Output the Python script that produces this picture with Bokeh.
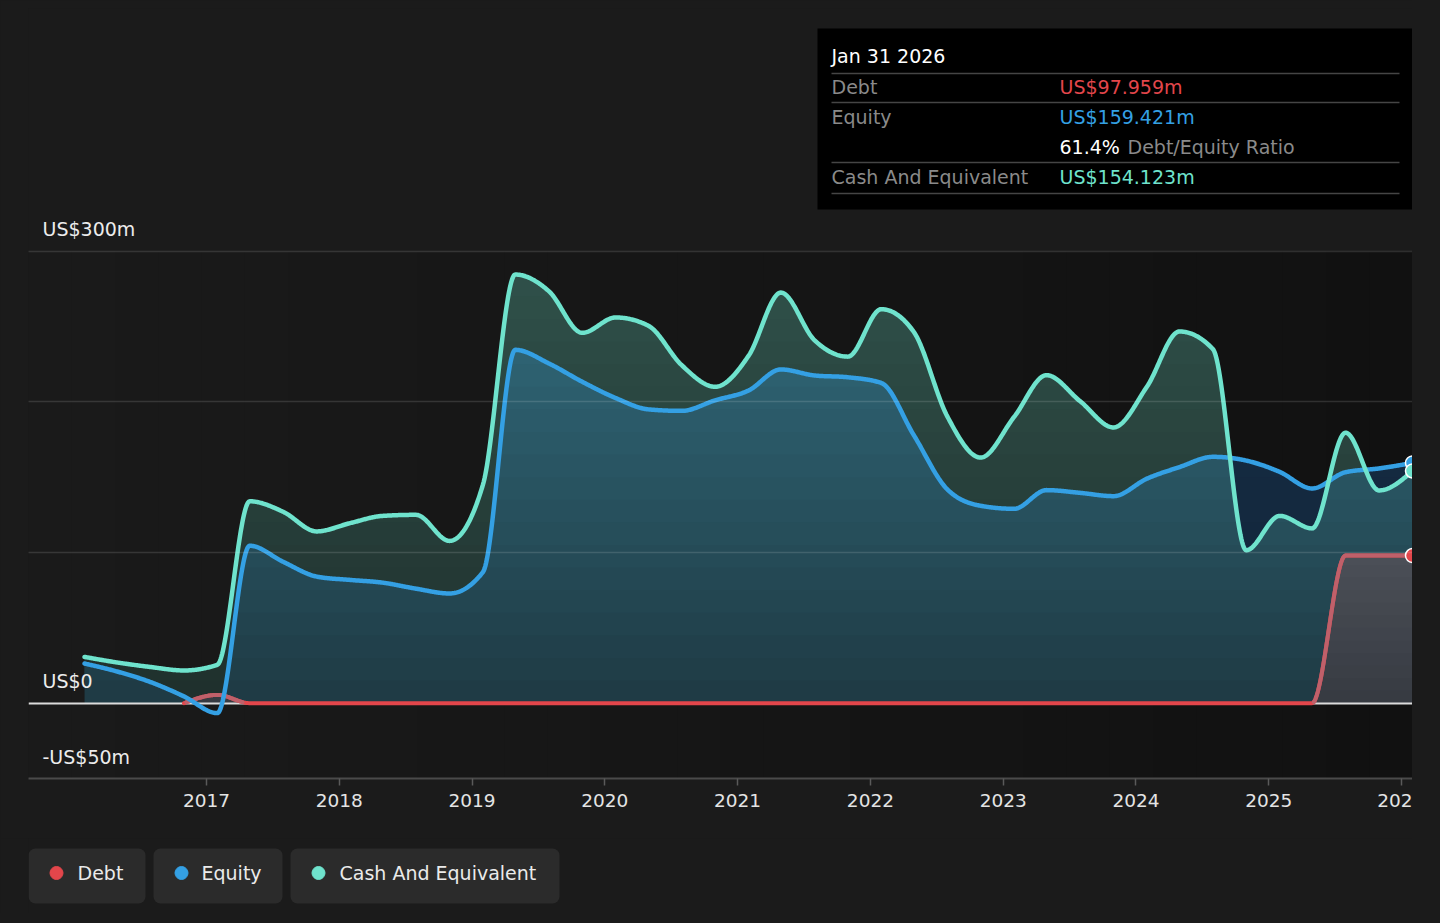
import datetime as dt
import numpy as np
from bokeh.plotting import figure
from bokeh.models import Range1d, FixedTicker, BoxAnnotation, Label, Grid
from bokeh.layouts import column
from bokeh.embed import file_html
from bokeh.resources import INLINE
from bokeh.core.properties import value

# ---------------- data (US$ m, quarter ends) ----------------
quarter_dates = [
    "2016-01-31", "2016-04-30", "2016-07-31", "2016-10-31",
    "2017-01-31", "2017-04-30", "2017-07-31", "2017-10-31",
    "2018-01-31", "2018-04-30", "2018-07-31", "2018-10-31",
    "2019-01-31", "2019-04-30", "2019-07-31", "2019-10-31",
    "2020-01-31", "2020-04-30", "2020-07-31", "2020-10-31",
    "2021-01-31", "2021-04-30", "2021-07-31", "2021-10-31",
    "2022-01-31", "2022-04-30", "2022-07-31", "2022-10-31",
    "2023-01-31", "2023-04-30", "2023-07-31", "2023-10-31",
    "2024-01-31", "2024-04-30", "2024-07-31", "2024-10-31",
    "2025-01-31", "2025-04-30", "2025-07-31", "2025-10-31",
    "2026-01-31",
]
cash = [
    30.7, 27.0, 24.0, 21.7,
    25.5, 134.0, 127.0, 114.0,
    119.5, 124.3, 125.0, 107.7,
    145.0, 284.5, 273.5, 245.8,
    256.0, 250.5, 224.3, 210.0,
    230.5, 272.5, 241.0, 230.0,
    261.5, 246.5, 190.5, 163.0,
    190.0, 217.7, 200.5, 183.0,
    210.0, 246.7, 235.0, 101.5,
    124.3, 116.0, 179.5, 141.2,
    154.123,
]
equity = [
    26.3, 21.0, 14.0, 4.5,
    -6.6, 104.5, 93.8, 84.0,
    81.8, 80.0, 76.0, 72.8,
    87.0, 234.5, 225.5, 213.3,
    202.5, 195.0, 194.0, 201.0,
    207.5, 221.5, 217.5, 216.3,
    212.5, 178.0, 142.0, 131.0,
    129.0, 141.4, 139.6, 137.4,
    149.0, 156.7, 163.5, 161.0,
    153.5, 142.5, 153.3, 155.8,
    159.421,
]
debt_dates = quarter_dates[3:]
debt = [
    0.0,
    5.5, 0.0, 0.0, 0.0,
    0.0, 0.0, 0.0, 0.0,
    0.0, 0.0, 0.0, 0.0,
    0.0, 0.0, 0.0, 0.0,
    0.0, 0.0, 0.0, 0.0,
    0.0, 0.0, 0.0, 0.0,
    0.0, 0.0, 0.0, 0.0,
    0.0, 0.0, 0.0, 0.0,
    0.0, 0.0, 98.0, 98.0,
    97.959,
]
year_ticks = list(range(2017, 2027))
# the last year label is cut off at the chart edge in the original
year_label_overrides = {2026: "202"}
grid_levels = [100, 200, 300]
y_label_values = [300, 0, -50]
y_label_texts = ["US$300m", "US$0", "-US$50m"]
series_names = ["Debt", "Equity", "Cash And Equivalent"]

# ---------------- style ----------------
PAGE = "#1b1b1b"
DEBT_C = "#e3464b"
DEBT_MUTED = "#c0606a"
EQ_C = "#34a0e4"
CASH_C = "#6fe3cd"
FONT = "DejaVu Sans"


def to_year(s):
    d = dt.date.fromisoformat(s)
    a = dt.date(d.year, 1, 1)
    b = dt.date(d.year + 1, 1, 1)
    return d.year + (d - a).days / (b - a).days


def monotone(x, y, n=40):
    """d3 curveMonotoneX rendering of the given points."""
    x = np.asarray(x, float)
    y = np.asarray(y, float)
    h = np.diff(x)
    s = np.diff(y) / h
    m = np.zeros_like(y)
    for i in range(1, len(x) - 1):
        s0, s1 = s[i - 1], s[i]
        p = (s0 * h[i] + s1 * h[i - 1]) / (h[i - 1] + h[i])
        m[i] = (np.sign(s0) + np.sign(s1)) * min(abs(s0), abs(s1), 0.5 * abs(p))
    m[0] = (3 * s[0] - m[1]) / 2
    m[-1] = (3 * s[-1] - m[-2]) / 2
    xs, ys = [], []
    u = np.linspace(0, 1, n, endpoint=False)
    for i in range(len(x) - 1):
        dx = h[i]
        p0, p3 = y[i], y[i + 1]
        p1 = p0 + dx * m[i] / 3
        p2 = p3 - dx * m[i + 1] / 3
        xs.append(x[i] + u * dx)
        ys.append((1 - u) ** 3 * p0 + 3 * (1 - u) ** 2 * u * p1 + 3 * (1 - u) * u ** 2 * p2 + u ** 3 * p3)
    xs.append([x[-1]])
    ys.append([y[-1]])
    return np.concatenate(xs), np.concatenate(ys)


def hex2rgb(c):
    c = c.lstrip("#")
    return [int(c[i:i + 2], 16) for i in (0, 2, 4)]


def mix(c1, c2, f):
    a, b = hex2rgb(c1), hex2rgb(c2)
    return "#%02x%02x%02x" % tuple(int(round(a[i] + (b[i] - a[i]) * f)) for i in range(3))


def gradient_fill(p, xs, lower, upper, lo_val, hi_val, c_lo, c_hi, n=20):
    step = (hi_val - lo_val) / n
    for k in range(n):
        L = lo_val + k * step
        col = mix(c_lo, c_hi, (k + 0.5) / n)
        y1 = np.maximum(lower, L) if k > 0 else np.asarray(lower, float)
        y2 = np.maximum(upper, y1)
        if np.any(y2 - y1 > 1e-6):
            p.varea(x=xs, y1=y1, y2=y2, fill_color=col, fill_alpha=1.0)


qx = [to_year(d) for d in quarter_dates]
dx_ = [to_year(d) for d in debt_dates]
x_end = qx[-1]

xs, cash_s = monotone(qx, cash)
_, eq_s = monotone(qx, equity)
dxs, debt_s = monotone(dx_, debt)

# ---------------- main figure ----------------
FIG_W = 1412
LEFT = 28
FRAME_W = FIG_W - LEFT
p = figure(width=FIG_W, height=838,
           x_range=Range1d(2015.66, x_end), y_range=Range1d(-50, 461.06),
           output_backend="svg", toolbar_location=None, y_axis_location=None,
           min_border_left=LEFT, min_border_right=0, min_border_top=8, min_border_bottom=60,
           background_fill_color=PAGE, border_fill_color=PAGE, outline_line_color=None)
p.xgrid.visible = False
p.ygrid.visible = False

# background horizontal gradient of plotting band
n_strips = 32
for k in range(n_strips):
    p.add_layout(BoxAnnotation(left=k * FRAME_W / n_strips, left_units="screen",
                               bottom=-50, top=300, fill_color=mix("#1a1a1a", "#111111", k / (n_strips - 1)),
                               fill_alpha=1.0, line_color=None, level="image"))

zero = np.zeros_like(xs)
both_min = np.minimum(cash_s, eq_s)
# overlap of cash and equity areas
gradient_fill(p, xs, zero, both_min, 0, 300, "#1e3a43", "#336e80", 20)
# cash above equity
gradient_fill(p, xs, np.maximum(eq_s, 0), cash_s, 0, 300, "#1f2f2c", "#30524b", 20)
# equity above cash
gradient_fill(p, xs, np.maximum(cash_s, 0), eq_s, 0, 300, "#11233a", "#173045", 10)
# debt area
gradient_fill(p, dxs, np.zeros_like(dxs), debt_s, 0, 100, "#363a41", "#4c5058", 12)

grid = Grid(dimension=1, ticker=FixedTicker(ticks=grid_levels),
            grid_line_color="#ffffff", grid_line_alpha=0.13, grid_line_width=1.5, level="annotation")
p.add_layout(grid, "center")

p.hspan(y=[0], line_color="#dcdcdc", line_width=2)
p.line(dxs, debt_s, line_color=DEBT_C, line_width=4, line_join="round", line_cap="round")
# part of the debt line that lies over the filled areas looks muted
p.line(dxs, np.where(debt_s > 0.6, debt_s, np.nan), line_color=DEBT_MUTED, line_width=4,
       line_join="round", line_cap="round")
p.line(xs, eq_s, line_color=EQ_C, line_width=4.5, line_join="round", line_cap="round")
p.line(xs, cash_s, line_color=CASH_C, line_width=4.5, line_join="round", line_cap="round")

p.scatter(x=[dx_[-1]], y=[debt[-1]], size=14, fill_color=DEBT_C, line_color="white", line_width=1.5)
p.scatter(x=[qx[-1]], y=[equity[-1]], size=14, fill_color=EQ_C, line_color="white", line_width=1.5)
p.scatter(x=[qx[-1]], y=[cash[-1]], size=14, fill_color=CASH_C, line_color="white", line_width=1.5)

# x axis
ax = p.xaxis[0]
ax.ticker = FixedTicker(ticks=year_ticks)
ax.major_label_overrides = year_label_overrides
ax.axis_line_color = "#4a4a4a"
ax.axis_line_width = 2
ax.major_tick_line_color = "#5a5a5a"
ax.major_tick_line_width = 1.5
ax.major_tick_in = 0
ax.major_tick_out = 7
ax.minor_tick_line_color = None
ax.major_label_text_font = FONT
ax.major_label_text_font_size = "18.5px"
ax.major_label_text_color = "#e4e4e4"
ax.major_label_standoff = 8

# y labels
for v, t in zip(y_label_values, y_label_texts):
    p.add_layout(Label(x=14, x_units="screen", y=v, text=t, y_offset=22,
                       text_baseline="middle", text_font=FONT, text_font_size="19px",
                       text_color="#ececec"))

# tooltip box (screen units from frame bottom-left)
p.add_layout(BoxAnnotation(left=789, right=1390, top=750, bottom=569,
                           left_units="screen", right_units="screen", top_units="screen", bottom_units="screen",
                           fill_color="#000000", fill_alpha=1.0, line_color=None))
for ly in [705, 676, 616, 585]:
    p.add_layout(BoxAnnotation(left=803, right=1371, top=ly + 0.75, bottom=ly - 0.75,
                               left_units="screen", right_units="screen", top_units="screen", bottom_units="screen",
                               fill_color="#454545", fill_alpha=1.0, line_color=None))

ratio = debt[-1] / equity[-1] * 100
tip = [
    (803, 723, dt.date.fromisoformat(quarter_dates[-1]).strftime("%b %d %Y"), "#ffffff"),
    (803, 692, "Debt", "#8a8a8a"),
    (1031, 692, "US$%.3fm" % debt[-1], DEBT_C),
    (803, 662, "Equity", "#8a8a8a"),
    (1031, 662, "US$%.3fm" % equity[-1], EQ_C),
    (1031, 632, "%.1f%%" % ratio, "#ffffff"),
    (1099, 632, "Debt/Equity Ratio", "#8a8a8a"),
    (803, 602, "Cash And Equivalent", "#8a8a8a"),
    (1031, 602, "US$%.3fm" % cash[-1], CASH_C),
]
for x, y, t, c in tip:
    p.add_layout(Label(x=x, y=y, x_units="screen", y_units="screen", text=t,
                       text_baseline="middle", text_font=FONT, text_font_size="19px", text_color=c))

# ---------------- legend strip (coordinates = page pixels) ----------------
lg = figure(width=FIG_W, height=75, x_range=Range1d(LEFT, FIG_W), y_range=Range1d(75, 0),
            output_backend="svg", toolbar_location=None, x_axis_location=None, y_axis_location=None,
            min_border_left=LEFT, min_border_right=0, min_border_top=0, min_border_bottom=0,
            background_fill_color=PAGE, border_fill_color=PAGE, outline_line_color=None)
lg.xgrid.visible = False
lg.ygrid.visible = False
boxes = [(28, 145), (153, 282), (290, 559)]
for (l, r) in boxes:
    lg.add_layout(BoxAnnotation(left=l, right=r, top=10, bottom=65, fill_color="#2b2b2b",
                                fill_alpha=1.0, line_color=None, border_radius=7, level="underlay"))
lg.scatter(x=[56, 181, 318], y=[34.5, 34.5, 34.5], size=13, color=[DEBT_C, EQ_C, CASH_C])
lg.text(x=[77, 201, 339], y=[34.5, 34.5, 34.5], text=series_names, text_font=value(FONT),
        text_font_size=value("19px"), text_baseline="middle", text_color="#eaeaea")

layout = column(p, lg, spacing=0)
html = file_html(layout, INLINE)
html = html.replace("</head>", "<style>html, body { background-color: #1b1b1b; }</style></head>", 1)
open("out.html", "w").write(html)
